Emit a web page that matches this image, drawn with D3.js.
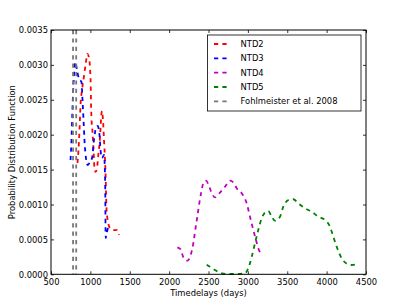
<!DOCTYPE html>
<html>
<head>
<meta charset="utf-8">
<script src="https://cdn.jsdelivr.net/npm/d3@7"></script>
<style>
  html, body { margin: 0; padding: 0; background: #fff; overflow: hidden; }
  svg { display: block; }
  text { font-family: "DejaVu Sans", sans-serif; font-size: 8.4px; fill: #000; }
</style>
</head>
<body>
<svg id="chart"></svg>
<script>
// Data (days, probability density)
const ntd2 = [
  [836, 0.001595], [849, 0.001781], [862, 0.002067], [875, 0.002426], [894, 0.00264],
  [919, 0.002841], [944, 0.003042], [961, 0.003157], [983, 0.0031], [995, 0.002956],
  [1004, 0.002713], [1008, 0.002454], [1014, 0.002239], [1027, 0.002039], [1040, 0.001781],
  [1052, 0.001523], [1065, 0.001466], [1084, 0.001523], [1101, 0.001709], [1118, 0.001895],
  [1129, 0.002096], [1139, 0.002282], [1148, 0.00234], [1160, 0.002211], [1173, 0.001924],
  [1186, 0.001638], [1195, 0.001351], [1201, 0.001064], [1211, 0.000849], [1249, 0.000663],
  [1300, 0.000634], [1338, 0.000634], [1363, 0.000563]
];
const ntd3 = [
  [748, 0.001638], [760, 0.001924], [770, 0.002282], [779, 0.002569], [792, 0.002855],
  [809, 0.003042], [830, 0.002927], [856, 0.002798], [887, 0.002755], [900, 0.002497],
  [913, 0.002211], [925, 0.001924], [944, 0.001666], [966, 0.001566], [995, 0.001609],
  [1021, 0.001666], [1046, 0.001924], [1071, 0.002096], [1093, 0.002125], [1116, 0.001996],
  [1129, 0.001781], [1148, 0.001666], [1173, 0.001709], [1186, 0.001423], [1190, 0.001064],
  [1192, 0.000706], [1195, 0.00052], [1211, 0.000606], [1237, 0.000721]
];
const ntd4 = [
  [2104, 0.000387], [2147, 0.000358], [2180, 0.000244], [2231, 0.000195], [2274, 0.000277],
  [2307, 0.000444], [2332, 0.000635], [2358, 0.000825], [2383, 0.001017], [2409, 0.001183],
  [2434, 0.001304], [2468, 0.001341], [2510, 0.001255], [2541, 0.001161], [2583, 0.001103],
  [2637, 0.001161], [2710, 0.001255], [2773, 0.001341], [2824, 0.001304], [2858, 0.001232],
  [2922, 0.001161], [2985, 0.001017], [3027, 0.000825], [3069, 0.000635], [3103, 0.000491],
  [3132, 0.000373], [3160, 0.000301]
];
const ntd5 = [
  [2477, 0.000138], [2519, 0.000109], [2582, 0.000062], [2646, 0.000023], [2731, 0.000004],
  [2836, 0.000004], [2963, 0.000014], [3005, 0.000086], [3049, 0.000252], [3090, 0.000444],
  [3132, 0.000635], [3175, 0.000802], [3211, 0.000878], [3259, 0.000907], [3302, 0.000825],
  [3344, 0.000768], [3408, 0.000825], [3450, 0.000969], [3513, 0.001064], [3577, 0.001075],
  [3640, 0.001017], [3725, 0.000946], [3810, 0.000897], [3894, 0.000825], [3979, 0.000778],
  [4043, 0.000682], [4085, 0.000539], [4128, 0.000395], [4191, 0.000229], [4252, 0.000155],
  [4318, 0.000133], [4367, 0.00014]
];
const fohlmeister = [780, 820];

const seriesNames = ["NTD2", "NTD3", "NTD4", "NTD5", "Fohlmeister et al. 2008"];
const xTicks = [500, 1000, 1500, 2000, 2500, 3000, 3500, 4000, 4500];
const yTicks = [0, 0.0005, 0.001, 0.0015, 0.002, 0.0025, 0.003, 0.0035];

// Dimensions
const width = 407;
const height = 305;
const margin = { top: 30, right: 41, bottom: 30.7, left: 51 };
const innerWidth = width - margin.left - margin.right;
const innerHeight = height - margin.top - margin.bottom;

const colors = ["#ff0000", "#0000ff", "#bf00bf", "#008000", "#777777"];
const dash = "4.2,4.2";

const svg = d3.select("#chart")
    .attr("width", width)
    .attr("height", height);

svg.append("rect").attr("width", width).attr("height", height).attr("fill", "#fff");

const chart = svg.append("g")
    .attr("transform", `translate(${margin.left}, ${margin.top})`);

// Scales
const x = d3.scaleLinear().domain([500, 4500]).range([0, innerWidth]);
const y = d3.scaleLinear().domain([0, 0.0035]).range([innerHeight, 0]);

const line = d3.line()
    .x(d => x(d[0]))
    .y(d => y(d[1]))
    .curve(d3.curveMonotoneX);

// Curves
[ntd2, ntd3, ntd4, ntd5].forEach((data, i) => {
  chart.append("path")
      .datum(data)
      .attr("fill", "none")
      .attr("stroke", colors[i])
      .attr("stroke-width", 1.8)
      .attr("stroke-dasharray", dash)
      .attr("d", line);
});

// Fohlmeister range lines
chart.selectAll(".fohl")
    .data(fohlmeister)
    .enter()
    .append("line")
    .attr("class", "fohl")
    .attr("x1", d => x(d))
    .attr("x2", d => x(d))
    .attr("y1", y(0.0035))
    .attr("y2", y(0))
    .attr("stroke", colors[4])
    .attr("stroke-width", 1.8)
    .attr("stroke-dasharray", dash);

// Axes (ticks inside, on all four sides)
const fmtX = d3.format("d");
const fmtY = d3.format(".4f");
const tickLen = 3;

const xAxis = chart.append("g")
    .attr("transform", `translate(0, ${innerHeight})`)
    .call(d3.axisBottom(x).tickValues(xTicks).tickSizeInner(-tickLen).tickSizeOuter(0).tickPadding(5).tickFormat(fmtX));
const xTop = chart.append("g")
    .call(d3.axisTop(x).tickValues(xTicks).tickSizeInner(-tickLen).tickSizeOuter(0).tickFormat(""));
const yAxis = chart.append("g")
    .call(d3.axisLeft(y).tickValues(yTicks).tickSizeInner(-tickLen).tickSizeOuter(0).tickPadding(3).tickFormat(fmtY));
const yRight = chart.append("g")
    .attr("transform", `translate(${innerWidth}, 0)`)
    .call(d3.axisRight(y).tickValues(yTicks).tickSizeInner(-tickLen).tickSizeOuter(0).tickFormat(""));

// mirrored axes carry no labels
xTop.selectAll("text").remove();
yRight.selectAll("text").remove();

[xAxis, xTop, yAxis, yRight].forEach(g => {
  g.select(".domain").remove();
  g.selectAll("line").attr("stroke", "#000").attr("stroke-width", 0.8);
  g.selectAll("text").attr("font-family", "DejaVu Sans").attr("font-size", 8.4).attr("fill", "#000");
});

// Frame
chart.append("rect")
    .attr("width", innerWidth)
    .attr("height", innerHeight)
    .attr("fill", "none")
    .attr("stroke", "#000")
    .attr("stroke-width", 1);

// Axis labels
svg.append("text")
    .attr("x", margin.left + innerWidth / 2)
    .attr("y", 296)
    .attr("text-anchor", "middle")
    .text("Timedelays (days)");

svg.append("text")
    .attr("transform", `translate(15, ${margin.top + innerHeight / 2}) rotate(-90)`)
    .attr("text-anchor", "middle")
    .text("Probability Distribution Function");

// Legend
const legend = svg.append("g").attr("transform", "translate(207.5, 35)");
legend.append("rect")
    .attr("width", 153.5)
    .attr("height", 76)
    .attr("fill", "#fff")
    .attr("stroke", "#000")
    .attr("stroke-width", 0.8);

const rows = legend.selectAll(".row")
    .data(seriesNames)
    .enter()
    .append("g")
    .attr("class", "row")
    .attr("transform", (d, i) => `translate(0, ${9 + i * 14.33})`);

rows.append("line")
    .attr("x1", 6.5)
    .attr("x2", 20)
    .attr("stroke", (d, i) => colors[i])
    .attr("stroke-width", 1.8)
    .attr("stroke-dasharray", dash);

rows.append("text")
    .attr("x", 33)
    .attr("dy", "0.35em")
    .text(d => d);
</script>
</body>
</html>
